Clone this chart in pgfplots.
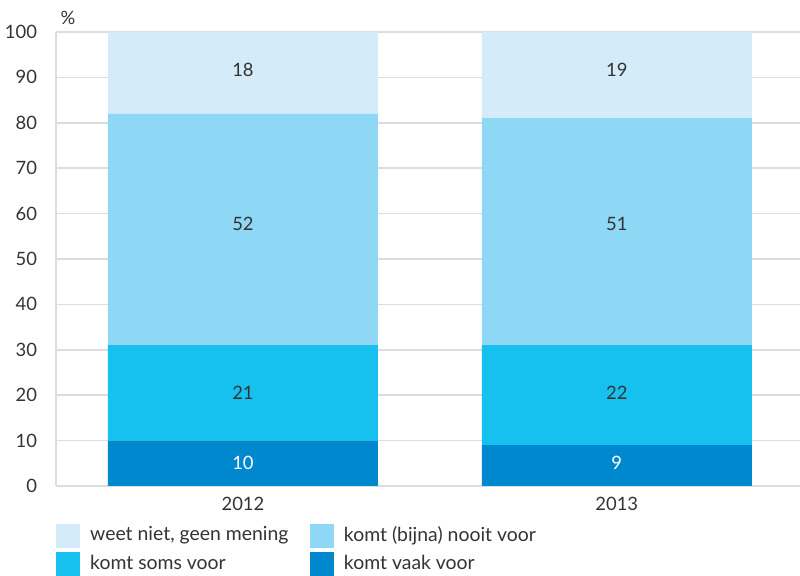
\documentclass[border=0pt]{standalone}
\usepackage{pgfplots}
\pgfplotsset{compat=1.18}
\usepackage{fontspec}
\setmainfont{Lato}
\definecolor{cA}{HTML}{D4ECFA}
\definecolor{cB}{HTML}{8FD8F5}
\definecolor{cC}{HTML}{16C1F0}
\definecolor{cD}{HTML}{0088CE}
\definecolor{txt}{HTML}{333333}
\definecolor{gridc}{HTML}{DDDDDD}
\begin{document}
\begin{tikzpicture}
\useasboundingbox (0,0) rectangle (400pt,288pt);
\pgfplotsset{
  common/.style={
    at={(28pt,45pt)}, anchor=south west,
    scale only axis, width=372pt, height=227pt,
    xmin=-0.5, xmax=1.49, ymin=0, ymax=100,
  }
}
\begin{axis}[common,
  ybar stacked, bar width=135pt,
  axis x line*=bottom, axis y line*=left,
  axis line style={gridc, line width=0.8pt, -},
  ymajorgrids, grid style={gridc, line width=0.8pt},
  ytick={0,10,...,100}, xtick={0,1}, xticklabels={2012,2013},
  major tick length=0pt,
  /pgf/number format/assume math mode=true,
  tick label style={font=\fontsize{9.2}{11}\selectfont, text=txt},
  yticklabel style={xshift=-6pt},
  xticklabel style={yshift=-2pt},
  legend columns=2,
  legend cell align=left,
  legend style={draw=none, fill=none, inner sep=0pt,
    at={(axis description cs:0,-0.0793)}, anchor=north west,
    font=\fontsize{9.7}{11}\selectfont, text=txt,
    /tikz/every even column/.append style={column sep=5pt},
    row sep=1.5pt},
]
\addplot[fill=cD, draw=none, forget plot] coordinates {(0,10) (1,9)};
\addplot[fill=cC, draw=none, forget plot] coordinates {(0,21) (1,22)};
\addplot[fill=cB, draw=none, forget plot] coordinates {(0,51) (1,50)};
\addplot[fill=cA, draw=none, forget plot] coordinates {(0,18) (1,19)};
\addlegendimage{legend image code/.code={\fill[cA] (0pt,-5.75pt) rectangle (11.5pt,5.75pt);}}
\addlegendentry{\makebox[106pt][l]{\hspace*{3pt}weet niet, geen mening}}
\addlegendimage{legend image code/.code={\fill[cB] (0pt,-5.75pt) rectangle (11.5pt,5.75pt);}}
\addlegendentry{\hspace*{3pt}komt (bijna) nooit voor}
\addlegendimage{legend image code/.code={\fill[cC] (0pt,-5.75pt) rectangle (11.5pt,5.75pt);}}
\addlegendentry{\makebox[106pt][l]{\hspace*{3pt}komt soms voor}}
\addlegendimage{legend image code/.code={\fill[cD] (0pt,-5.75pt) rectangle (11.5pt,5.75pt);}}
\addlegendentry{\hspace*{3pt}komt vaak voor}
\end{axis}
\begin{axis}[common, hide axis]
\addplot[draw=none, mark=none, nodes near coords, point meta=explicit symbolic,
  every node near coord/.append style={anchor=center, font=\fontsize{9.2}{11}\selectfont, text=white}]
  coordinates {(0,5)[10] (1,5)[9]};
\addplot[draw=none, mark=none, nodes near coords, point meta=explicit symbolic,
  every node near coord/.append style={anchor=center, font=\fontsize{9.2}{11}\selectfont, text=txt}]
  coordinates {(0,20.5)[21] (1,20.5)[22] (0,57.7)[52] (1,57.7)[51] (0,91.6)[18] (1,91.6)[19]};
\end{axis}
\node[font=\fontsize{9.2}{11}\selectfont, text=txt] at (34pt,279pt) {\%};
\end{tikzpicture}
\end{document}
